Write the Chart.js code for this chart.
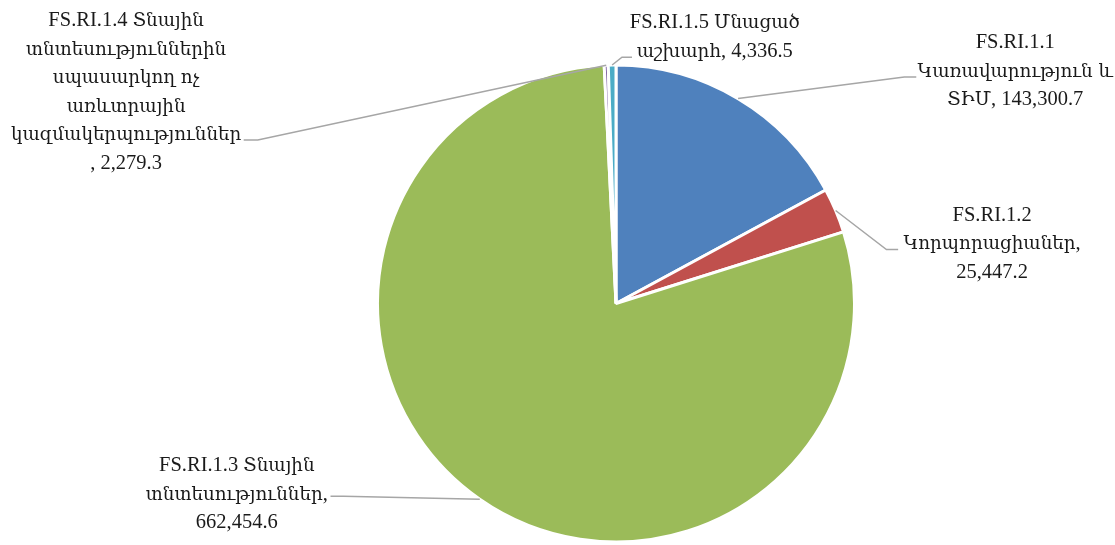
<!DOCTYPE html>
<html>
<head>
<meta charset="utf-8">
<script src="https://cdn.jsdelivr.net/npm/chart.js@4.4.0/dist/chart.umd.min.js"></script>
<style>
  html, body { margin: 0; padding: 0; background: #ffffff; }
  #wrap { width: 1115px; height: 545px; }
</style>
</head>
<body>
<div id="wrap"><canvas id="c" width="1115" height="545"></canvas></div>
<script>
// ---- data ----
const categories = [
  "FS.RI.1.1 Կառավարություն և ՏԻՄ",
  "FS.RI.1.2 Կորպորացիաներ",
  "FS.RI.1.3 Տնային տնտեսություններ",
  "FS.RI.1.4 Տնային տնտեսություններին սպասարկող ոչ առևտրային կազմակերպություններ",
  "FS.RI.1.5 Մնացած աշխարհ"
];
const values = [143300.7, 25447.2, 662454.6, 2279.3, 4336.5];
const valueLabels = ["143,300.7", "25,447.2", "662,454.6", "2,279.3", "4,336.5"];
const labelLines = [
  ["FS.RI.1.1", "Կառավարություն և", "ՏԻՄ, 143,300.7"],
  ["FS.RI.1.2", "Կորպորացիաներ,", "25,447.2"],
  ["FS.RI.1.3 Տնային", "տնտեսություններ,", "662,454.6"],
  ["FS.RI.1.4 Տնային", "տնտեսություններին", "սպասարկող ոչ", "առևտրային", "կազմակերպություններ", ", 2,279.3"],
  ["FS.RI.1.5 Մնացած", "աշխարհ, 4,336.5"]
];
const colors = ["#4F81BD", "#C0504D", "#9BBB59", "#8064A2", "#4BACC6"];

// label placement in units of the pie radius, relative to the pie centre
const labelPlace = [
  { tx: 1.674, ty: -1.071, elbow: [1.209, -0.950], end: [1.259, -0.950] },
  { tx: 1.577, ty: -0.347, elbow: [1.134, -0.226], end: [1.183, -0.226] },
  { tx: -1.590, ty: 0.703, elbow: [-1.142, 0.808], end: [-1.197, 0.808] },
  { tx: -2.054, ty: -1.163, elbow: [-1.502, -0.686], end: [-1.561, -0.686] },
  { tx: 0.414, ty: -1.155, elbow: [0.025, -1.033], end: [0.067, -1.033] }
];

const FONT_LATIN = '20.5px "Liberation Serif", "DejaVu Serif", serif';
const FONT_ARM = '18.3px "DejaVu Serif", serif';
const LINE_H = 28.5;

function splitRuns(text) {
  const runs = [];
  let cur = null;
  for (const ch of text) {
    let arm = /[\u0530-\u058F]/.test(ch);
    if (ch === ' ' && cur) arm = cur.arm;
    if (!cur || cur.arm !== arm) {
      cur = { arm, text: '' };
      runs.push(cur);
    }
    cur.text += ch;
  }
  return runs;
}

function drawMixed(ctx, text, cx, y) {
  const runs = splitRuns(text);
  let total = 0;
  runs.forEach(r => {
    ctx.font = r.arm ? FONT_ARM : FONT_LATIN;
    r.w = ctx.measureText(r.text).width;
    total += r.w;
  });
  let x = cx - total / 2;
  ctx.textAlign = 'left';
  runs.forEach(r => {
    ctx.font = r.arm ? FONT_ARM : FONT_LATIN;
    ctx.fillText(r.text, x, y);
    x += r.w;
  });
}

const labelPlugin = {
  id: 'pieLabels',
  afterDatasetsDraw(chart) {
    const ctx = chart.ctx;
    const meta = chart.getDatasetMeta(0);
    ctx.save();
    meta.data.forEach((arc, i) => {
      const p = arc.getProps(['x', 'y', 'startAngle', 'endAngle', 'outerRadius'], true);
      const mid = (p.startAngle + p.endAngle) / 2;
      const r = p.outerRadius;
      const ax = p.x + Math.cos(mid) * r;
      const ay = p.y + Math.sin(mid) * r;
      const pl = labelPlace[i];
      ctx.strokeStyle = '#A6A6A6';
      ctx.lineWidth = 1.5;
      ctx.beginPath();
      ctx.moveTo(ax, ay);
      ctx.lineTo(p.x + pl.elbow[0] * r, p.y + pl.elbow[1] * r);
      ctx.lineTo(p.x + pl.end[0] * r, p.y + pl.end[1] * r);
      ctx.stroke();
      ctx.fillStyle = '#1a1a1a';
      ctx.textBaseline = 'alphabetic';
      const cx = p.x + pl.tx * r;
      const cy = p.y + pl.ty * r;
      labelLines[i].forEach((line, k) => {
        drawMixed(ctx, line, cx, cy + k * LINE_H);
      });
    });
    ctx.restore();
  }
};

new Chart(document.getElementById('c'), {
  type: 'pie',
  data: {
    labels: categories,
    datasets: [{
      data: values,
      backgroundColor: colors,
      borderColor: '#ffffff',
      borderWidth: 3
    }]
  },
  options: {
    responsive: false,
    animation: false,
    layout: { padding: { left: 376, right: 259, top: 63, bottom: 1 } },
    plugins: {
      legend: { display: false },
      tooltip: { enabled: false }
    }
  },
  plugins: [labelPlugin]
});
</script>
</body>
</html>
